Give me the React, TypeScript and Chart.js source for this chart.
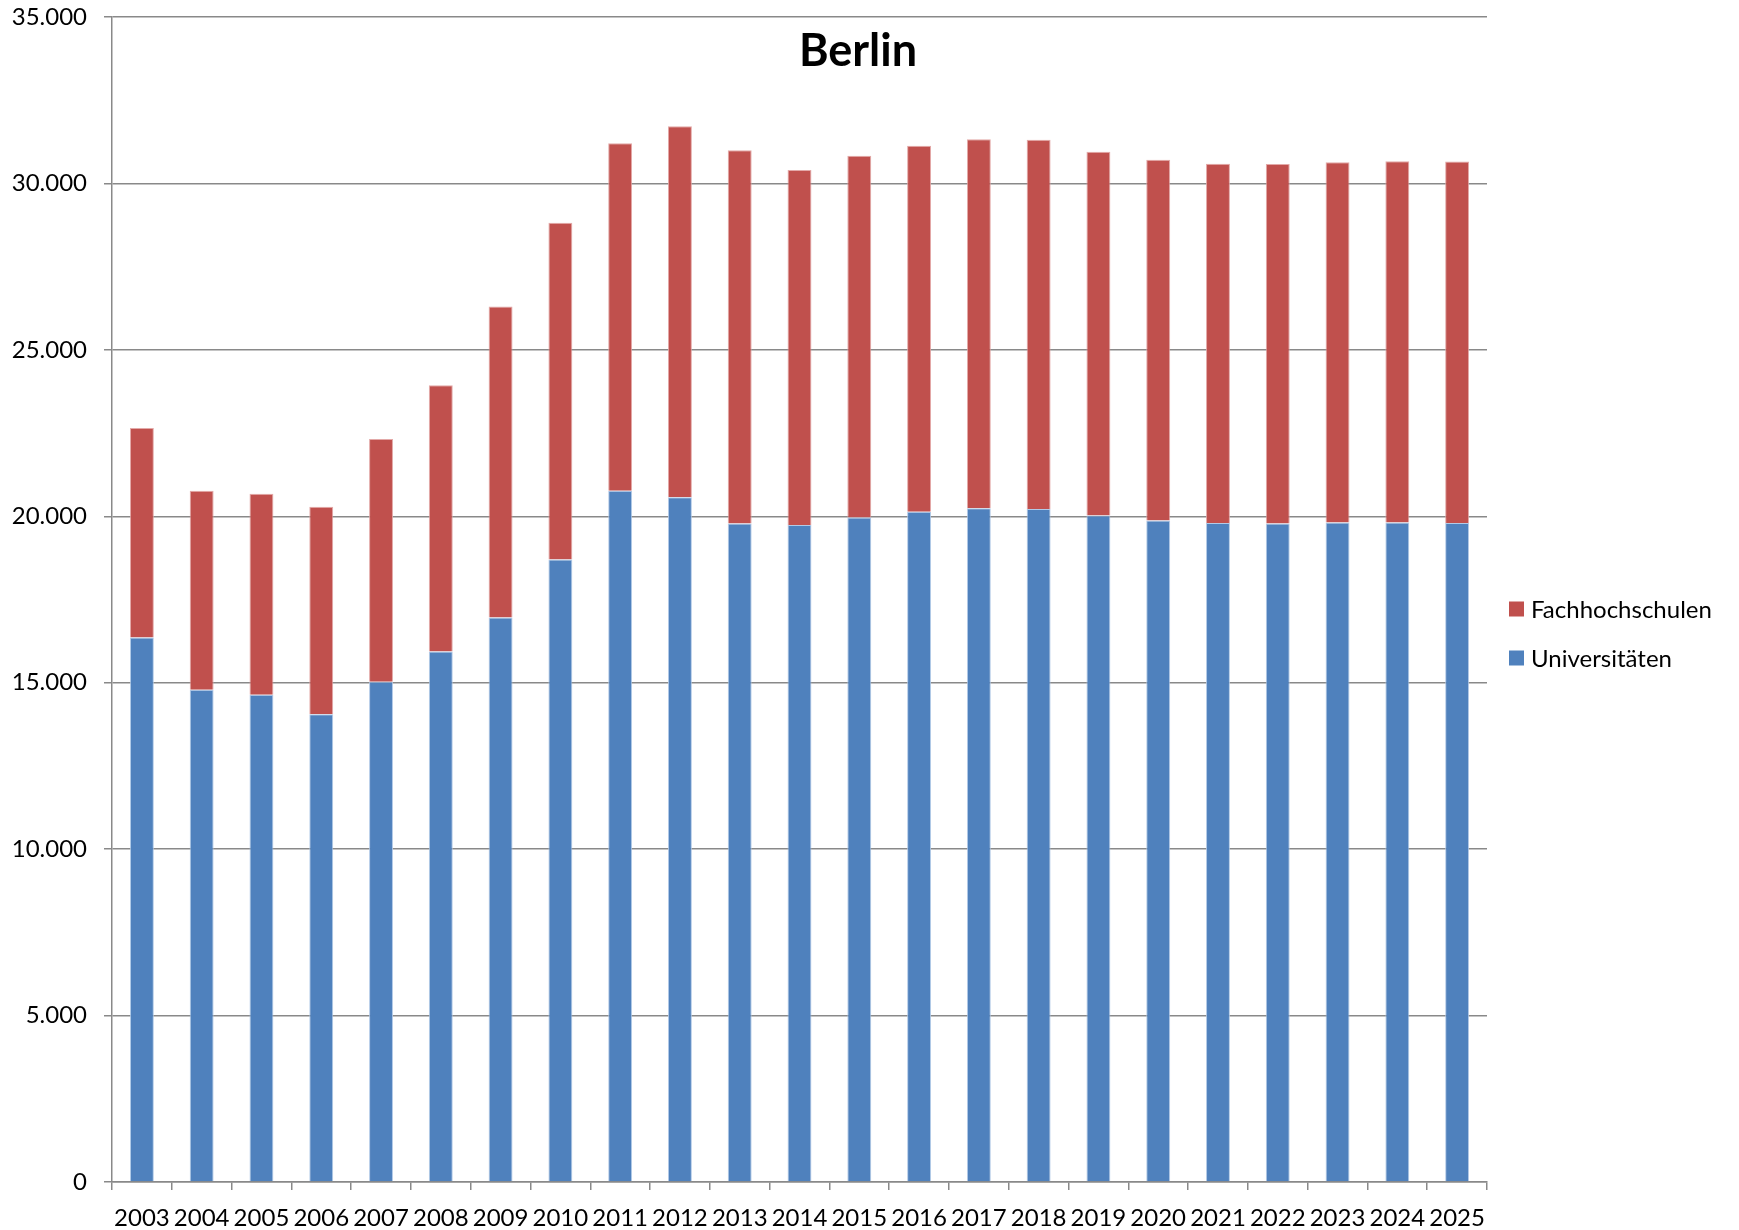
import React, { useEffect, useRef } from "react";
import { Chart, registerables } from "chart.js";

Chart.register(...registerables);

const years = [
  "2003", "2004", "2005", "2006", "2007", "2008", "2009", "2010", "2011", "2012", "2013", "2014",
  "2015", "2016", "2017", "2018", "2019", "2020", "2021", "2022", "2023", "2024", "2025",
];

const universitaeten = [
  16360, 14790, 14640, 14050, 15030, 15940, 16960, 18700, 20770, 20570, 19780, 19740,
  19960, 20140, 20240, 20220, 20020, 19870, 19800, 19780, 19810, 19810, 19800,
];

const fachhochschulen = [
  6290, 5980, 6040, 6240, 7290, 8000, 9340, 10120, 10440, 11150, 11220, 10660,
  10870, 10990, 11090, 11090, 10930, 10840, 10790, 10800, 10830, 10860, 10860,
];

const seriesLabels = ["Universitäten", "Fachhochschulen"];
const seriesColors = ["#4F81BD", "#C0504D"];
const seriesBorders = ["rgba(170,196,228,0.9)", "rgba(224,160,158,0.9)"];
const titleText = "Berlin";

const W = 1739;
const H = 1230;
const FONT = "Lato, 'Open Sans', sans-serif";
const GRID = "#898989";

const fmt = (v: number) => String(v).replace(/\B(?=(\d{3})+(?!\d))/g, ".");

const overlayPlugin = {
  id: "overlay",
  afterDraw(chart: any) {
    const ctx = chart.ctx;
    ctx.save();
    // title
    ctx.fillStyle = "#000";
    ctx.font = `bold 45px ${FONT}`;
    ctx.textAlign = "center";
    ctx.textBaseline = "middle";
    ctx.fillText(titleText, 858, 51);
    // legend (reversed order)
    const ds = chart.data.datasets.slice().reverse();
    ctx.font = `24px ${FONT}`;
    ctx.textAlign = "left";
    ds.forEach((d: any, i: number) => {
      const cy = 609 + i * 49;
      ctx.fillStyle = d.backgroundColor;
      ctx.fillRect(1509, cy - 7.5, 15, 15);
      ctx.fillStyle = "#000";
      ctx.fillText(d.label, 1531, cy + 1);
    });
    ctx.restore();
  },
};

export default function App() {
  const ref = useRef<HTMLCanvasElement | null>(null);

  useEffect(() => {
    if (!ref.current) return;
    const chart = new Chart(ref.current, {
      type: "bar",
      data: {
        labels: years,
        datasets: [
          {
            label: seriesLabels[0],
            data: universitaeten,
            backgroundColor: seriesColors[0],
            borderColor: seriesBorders[0],
            borderWidth: 1,
          },
          {
            label: seriesLabels[1],
            data: fachhochschulen,
            backgroundColor: seriesColors[1],
            borderColor: seriesBorders[1],
            borderWidth: 1,
          },
        ],
      },
      options: {
        responsive: false,
        animation: false,
        devicePixelRatio: 1,
        layout: { padding: { left: 0, top: 17, right: W - 1487, bottom: 0 } },
        datasets: { bar: { barPercentage: 0.4, categoryPercentage: 1 } },
        plugins: {
          legend: { display: false },
          title: { display: false },
          tooltip: { enabled: false },
        },
        scales: {
          x: {
            stacked: true,
            offset: true,
            grid: {
              offset: true,
              drawOnChartArea: false,
              drawTicks: true,
              tickLength: 8,
              color: GRID,
              lineWidth: 1.5,
            },
            border: { display: true, color: GRID, width: 1.5 },
            ticks: {
              color: "#000",
              font: { family: FONT, size: 24 },
              padding: 14,
              maxRotation: 0,
              autoSkip: false,
            },
            afterFit(scale: any) {
              scale.height = H - 1182;
              scale.paddingLeft = 0;
              scale.paddingRight = 0;
            },
          },
          y: {
            stacked: true,
            min: 0,
            max: 35000,
            grid: {
              color: GRID,
              lineWidth: 1.5,
              tickLength: 8,
              drawTicks: true,
            },
            border: { display: true, color: GRID, width: 1.5 },
            ticks: {
              stepSize: 5000,
              color: "#000",
              font: { family: FONT, size: 24 },
              padding: 17,
              callback: (v: any) => fmt(Number(v)),
            },
            afterFit(scale: any) {
              scale.width = 112;
              scale.paddingTop = 0;
              scale.paddingBottom = 0;
            },
          },
        },
      },
      plugins: [overlayPlugin],
    });
    return () => chart.destroy();
  }, []);

  return (
    <div style={{ position: "absolute", left: 0, top: 0, width: W, height: H, background: "#fff" }}>
      <canvas ref={ref} width={W} height={H} style={{ display: "block", width: W, height: H }} />
    </div>
  );
}
